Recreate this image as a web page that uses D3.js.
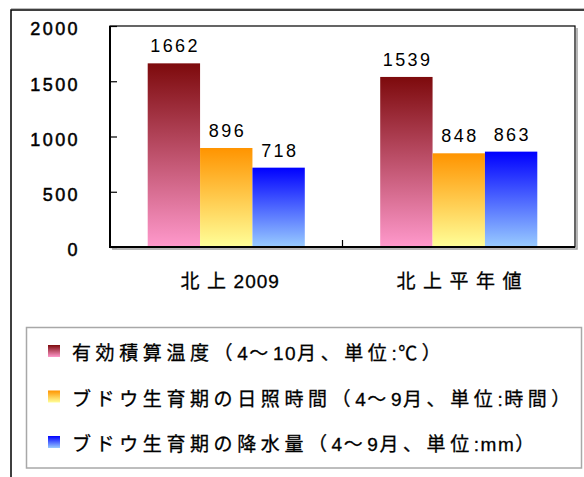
<!DOCTYPE html>
<html>
<head>
<meta charset="utf-8">
<script src="https://cdn.jsdelivr.net/npm/d3@7"></script>
<style>
  body { margin: 0; background: #fff; }
  svg { display: block; }
  text { fill: #000; }
  .jp { font-family: "Liberation Sans", "Noto Sans CJK JP", sans-serif; stroke: #000; stroke-width: 0.3px; }
  .num { font-family: "Liberation Sans", Arial, sans-serif; }
</style>
</head>
<body>
<div id="chart"></div>
<script>

// Chart data
const categories = ["北上2009", "北上平年値"];
const seriesNames = [
    "有効積算温度（4～10月、単位:℃）",
    "ブドウ生育期の日照時間（4～9月、単位:時間）",
    "ブドウ生育期の降水量（4～9月、単位:mm）"
];
const heatSum  = [1662, 1539];
const sunshine = [896, 848];
const rainfall = [718, 863];
const yTicks   = [0, 500, 1000, 1500, 2000];

// Gradient colours per series, top -> bottom
const gradTop    = ["#7d0a0c", "#ff9400", "#0000ff"];
const gradBottom = ["#ff99cc", "#ffff99", "#99ccff"];

const series = [heatSum, sunshine, rainfall];

const width = 584, height = 477;
const plot = {left: 110, right: 575, top: 26, bottom: 247};

const svg = d3.select("#chart").append("svg")
    .attr("width", width)
    .attr("height", height);

// Gradients
const defs = svg.append("defs");
series.forEach(function(s, i) {
    let g = defs.append("linearGradient")
        .attr("id", "grad" + i)
        .attr("x1", 0).attr("y1", 0).attr("x2", 0).attr("y2", 1);
    g.append("stop").attr("offset", "0%").attr("stop-color", gradTop[i]);
    g.append("stop").attr("offset", "100%").attr("stop-color", gradBottom[i]);
});

// Write text with wide spacing for CJK chars, narrow for latin/digits
function spacedText(sel, str, wideLs, narrowLs) {
    let runs = [];
    for (const ch of str) {
        let wide = ch.codePointAt(0) >= 0x2000;
        if (runs.length && runs[runs.length - 1].wide === wide) {
            runs[runs.length - 1].s += ch;
        } else {
            runs.push({s: ch, wide: wide});
        }
    }
    runs.forEach(r => {
        sel.append("tspan")
            .attr("letter-spacing", (r.wide ? wideLs : narrowLs) + "px")
            .text(r.s);
    });
}

// Outer frame
svg.append("line")
    .attr("x1", 11).attr("x2", width).attr("y1", 8.5).attr("y2", 8.5)
    .attr("stroke", "#bbb").attr("stroke-width", 1);
svg.append("rect")
    .attr("x", 11).attr("y", 10)
    .attr("width", width + 20).attr("height", height + 20)
    .attr("fill", "none").attr("stroke", "#000").attr("stroke-width", 1.5);

// Scales
const x0 = d3.scaleBand().domain(categories).range([plot.left, plot.right]);
const x1 = d3.scaleBand().domain(d3.range(series.length))
    .range([0, x0.bandwidth()]).paddingOuter(0.72);
const y = d3.scaleLinear().domain([0, 2000]).range([plot.bottom, plot.top]);

// Plot area border with a grey shadow
svg.append("polyline")
    .attr("points", [[plot.left + 2, plot.bottom + 2], [plot.right + 2, plot.bottom + 2], [plot.right + 2, plot.top + 2]].join(" "))
    .attr("fill", "none").attr("stroke", "#a0a0a0").attr("stroke-width", 1.5);
svg.append("rect")
    .attr("x", plot.left).attr("y", plot.top)
    .attr("width", plot.right - plot.left).attr("height", plot.bottom - plot.top)
    .attr("fill", "#fff").attr("stroke", "#000").attr("stroke-width", 1.2);

// Bars + value labels
categories.forEach(function(c, ci) {
    series.forEach(function(s, si) {
        svg.append("rect")
            .attr("x", x0(c) + x1(si))
            .attr("y", y(s[ci]))
            .attr("width", x1.bandwidth())
            .attr("height", y(0) - y(s[ci]))
            .attr("fill", "url(#grad" + si + ")");

        svg.append("text")
            .attr("class", "num")
            .attr("x", x0(c) + x1(si) + x1.bandwidth() / 2 + 1.2)
            .attr("y", y(s[ci]) - 11)
            .attr("text-anchor", "middle")
            .attr("font-size", "18px")
            .attr("letter-spacing", "2.4px")
            .text(s[ci]);
    });
});

// Y axis
const yAxis = d3.axisRight(y).tickValues(yTicks).tickSize(7).tickFormat("");
const yg = svg.append("g")
    .attr("transform", "translate(" + plot.left + ",0)")
    .call(yAxis);
yg.select(".domain").remove();
yg.selectAll(".tick line").attr("stroke", "#000").attr("stroke-width", 1.2);
svg.append("line")
    .attr("x1", plot.left).attr("x2", plot.left)
    .attr("y1", plot.top).attr("y2", plot.bottom + 1)
    .attr("stroke", "#000").attr("stroke-width", 2);

svg.selectAll(".ylabel")
    .data(yTicks)
    .join("text")
        .attr("class", "ylabel num")
        .attr("x", 80)
        .attr("y", d => y(d) + 3)
        .attr("dy", "0.35em")
        .attr("text-anchor", "end")
        .attr("font-size", "18px")
        .attr("stroke", "#000")
        .attr("stroke-width", 0.5)
        .attr("letter-spacing", "2.4px")
        .text(d => d);

// X axis
svg.append("line")
    .attr("x1", plot.left - 1).attr("x2", plot.right)
    .attr("y1", plot.bottom).attr("y2", plot.bottom)
    .attr("stroke", "#000").attr("stroke-width", 2);
categories.slice(1).forEach(function(c) {
    svg.append("line")
        .attr("x1", x0(c)).attr("x2", x0(c))
        .attr("y1", plot.bottom).attr("y2", plot.bottom - 7)
        .attr("stroke", "#000").attr("stroke-width", 1.2);
});
categories.forEach(function(c) {
    let t = svg.append("text")
        .attr("class", "jp")
        .attr("x", x0(c) + x0.bandwidth() / 2 + 4)
        .attr("y", 288)
        .attr("text-anchor", "middle")
        .attr("font-size", "19px");
    spacedText(t, c, 7.5, 1);
});

// Legend
const legend = svg.append("g");
legend.append("rect")
    .attr("x", 26.5).attr("y", 327.5)
    .attr("width", 555).attr("height", 140.5)
    .attr("fill", "#fff").attr("stroke", "#a8a8a8").attr("stroke-width", 1.5);

seriesNames.forEach(function(name, i) {
    let cy = 351 + i * 45.5;
    legend.append("rect")
        .attr("x", 48).attr("y", cy - 6)
        .attr("width", 12).attr("height", 12)
        .attr("fill", "url(#grad" + i + ")");
    let t = legend.append("text")
        .attr("class", "jp")
        .attr("x", 72)
        .attr("y", cy + 9)
        .attr("font-size", "19px");
    spacedText(t, name, 4.6, 1.5);
});

</script>
</body>
</html>
